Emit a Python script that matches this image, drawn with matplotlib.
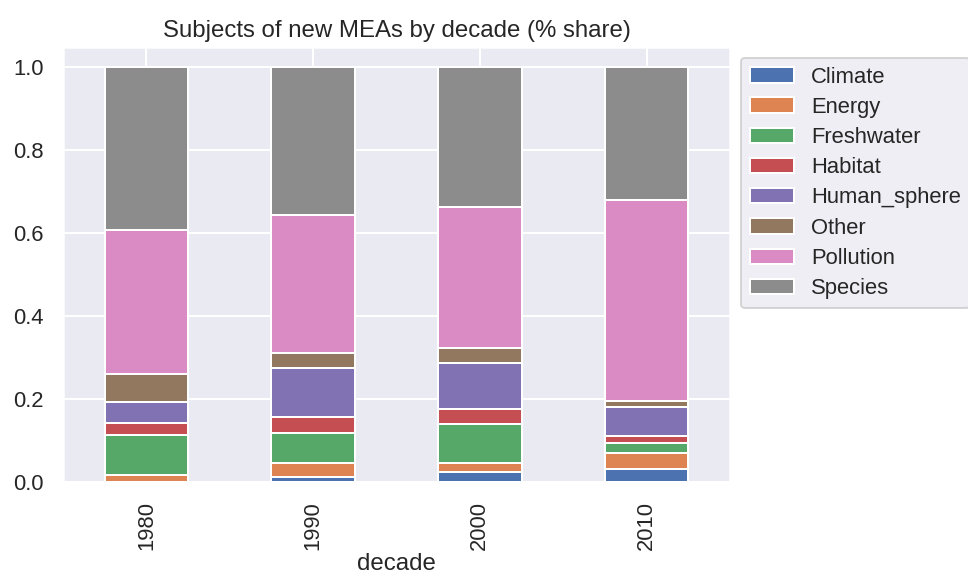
import pandas as pd
import matplotlib
matplotlib.use('Agg')
import matplotlib.pyplot as plt
import seaborn as sns

# values (share of new MEAs per decade)
decades = ['1980', '1990', '2000', '2010']
climate = [0.000, 0.011, 0.023, 0.031]
energy = [0.017, 0.035, 0.023, 0.039]
freshwater = [0.096, 0.073, 0.093, 0.024]
habitat = [0.030, 0.038, 0.037, 0.016]
human_sphere = [0.050, 0.119, 0.112, 0.070]
other = [0.068, 0.036, 0.036, 0.016]
pollution = [0.347, 0.331, 0.339, 0.484]
species = [0.392, 0.357, 0.337, 0.320]

sns.set_theme()
plt.rcParams['font.family'] = ['Liberation Sans', 'DejaVu Sans']

df = pd.DataFrame({
    'Climate': climate,
    'Energy': energy,
    'Freshwater': freshwater,
    'Habitat': habitat,
    'Human_sphere': human_sphere,
    'Other': other,
    'Pollution': pollution,
    'Species': species,
}, index=pd.Index(decades, name='decade'))

fig = plt.figure(figsize=(968 / 144, 578 / 144), dpi=144)
ax = fig.add_axes([0.0651, 0.1661, 0.689, 0.7531])
df.plot(kind='bar', stacked=True, ax=ax)
ax.set_title('Subjects of new MEAs by decade (% share)', pad=5)
ax.xaxis.labelpad = 1.5
ax.legend(bbox_to_anchor=(1.0, 1.0), loc='upper left', labelspacing=0.42)

fig.savefig('out.png', dpi=144)
